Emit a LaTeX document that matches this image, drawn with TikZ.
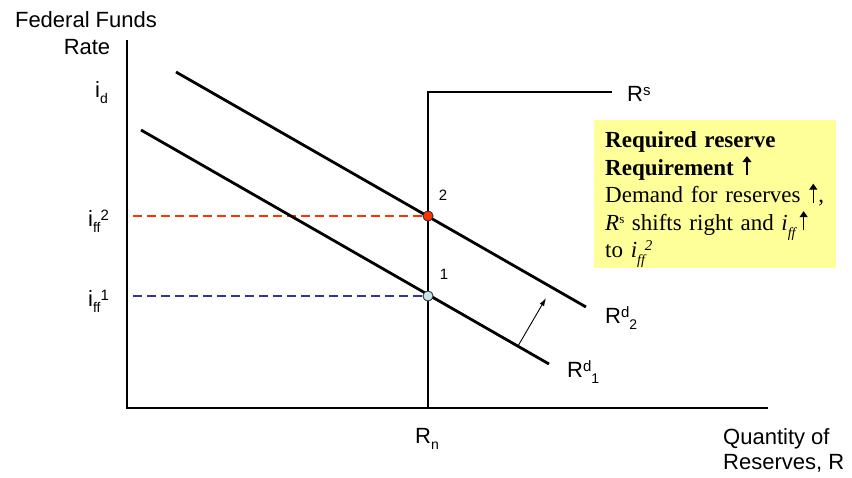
\documentclass[tikz,border=0pt]{standalone}
\usepackage{fontspec}
\setmainfont{Liberation Sans}
\newfontfamily\timesf{Liberation Serif}
\usetikzlibrary{arrows.meta}
\definecolor{boxyellow}{HTML}{FFFF99}
\definecolor{ffred}{HTML}{FF3300}
\definecolor{ffblue}{HTML}{333399}
\definecolor{dotcyan}{HTML}{C8E6E6}
\newcommand{\mysub}[1]{\raisebox{-0.3em}{\fontsize{14}{14}\selectfont #1}}
\newcommand{\mysup}[1]{\raisebox{0.26em}{\fontsize{15}{15}\selectfont #1}}
\newcommand{\uparrw}[2]{\hspace{1pt}\tikz[baseline=0pt]\draw[line width=#1, -{Triangle[length=6pt,width=#2]}] (0pt,0pt) -- (0pt,19pt);\hspace{1pt}}
\begin{document}
\begin{tikzpicture}[x=1pt,y=-1pt,
  lab/.style={inner sep=0pt, font=\fontsize{22}{26}\selectfont},
  small/.style={inner sep=0pt, font=\fontsize{15}{15}\selectfont},
  axis/.style={line width=2.3pt},
  curve/.style={line width=2.8pt},
  guide/.style={line width=2.3pt, dash pattern=on 9pt off 5pt},
  dot/.style={circle, draw=black!80, line width=0.8pt, minimum size=10pt, inner sep=0pt},
  infobox/.style={fill=boxyellow, draw=none, anchor=north west, minimum width=242pt,
    minimum height=148pt, inner sep=0pt},
  infotext/.style={anchor=north west, inner sep=0pt, text width=236pt, align=left,
    font=\timesf\fontsize{23}{27.5}\selectfont}
]
\useasboundingbox (0,0) rectangle (852,477);
% coordinates
\coordinate (ytop) at (127,40);
\coordinate (O) at (127,408);
\coordinate (xend) at (768,408);
\coordinate (rsb) at (428,408);
\coordinate (rsc) at (428,92);
\coordinate (rse) at (612,92);
\coordinate (d2a) at (176,72);
\coordinate (d2b) at (586,307);
\coordinate (d1a) at (141,130);
\coordinate (d1b) at (549,364);
\coordinate (g2) at (133,216);
\coordinate (g1) at (133,296);
\coordinate (at) at (518,346);
\coordinate (ah) at (546,298);
% guides
\node[dot, fill=ffred] (p2) at (428,216) {};
\node[dot, fill=dotcyan] (p1) at (428,296) {};
\draw[guide, draw=ffred] (g2) -- (p2.center);
\draw[guide, draw=ffblue] (g1) -- (p1.center);
% axes
\draw[axis] (ytop) -- (O) -- (xend);
% supply
\draw[curve, line cap=butt] (rsb) -- (rsc) -- (rse);
% demand
\draw[curve] (d2a) -- (d2b);
\draw[curve] (d1a) -- (d1b);
% dots on top
\node[dot, fill=ffred] at (p2) {};
\node[dot, fill=dotcyan] at (p1) {};
% shift arrow
\draw[line width=0.9pt, -{Latex[length=8pt,width=5pt]}] (at) -- (ah);
% labels
\node[lab, anchor=base] (ff) at (86,27) {Federal Funds};
\node[lab, anchor=base] (rate) at (87,54) {Rate};
\node[lab, anchor=base west] (id) at (95,97) {i\mysub{d}};
\node[lab, anchor=base west] (iff2) at (88,226) {i\mysub{ff}\mysup{2}};
\node[lab, anchor=base west] (iff1) at (88,306) {i\mysub{ff}\mysup{1}};
\node[small, anchor=base] (n2) at (443,200) {2};
\node[small, anchor=base] (n1) at (444,279) {1};
\node[lab, anchor=base west] (rs) at (627,101) {R\mysup{s}};
\node[lab, anchor=base west] (rd2) at (605,323) {R\mysup{d}\mysub{2}};
\node[lab, anchor=base west] (rd1) at (567,377) {R\mysup{d}\mysub{1}};
\node[lab, anchor=base west] (rn) at (415,443) {R\mysub{n}};
\node[lab, anchor=base west] (q1) at (723,444) {Quantity of};
\node[lab, anchor=base west] (q2) at (723,469) {Reserves, R};
% info box
\node[infobox] (box) at (594,120) {};
\node[infotext] (boxtext) at (605,131.5) {\textbf{Required reserve}\\\textbf{Requirement} \uparrw{2.2pt}{9pt}\\Demand for reserves \uparrw{1.2pt}{8pt},\\\textit{R}\raisebox{0.28em}{\fontsize{13}{13}\selectfont s} shifts right and \textit{i\mysub{ff}}\hspace{3pt}\uparrw{1.2pt}{8pt}\\to \textit{i\mysub{ff}\raisebox{0.3em}{\fontsize{15}{15}\selectfont 2}}};
\end{tikzpicture}
\end{document}
